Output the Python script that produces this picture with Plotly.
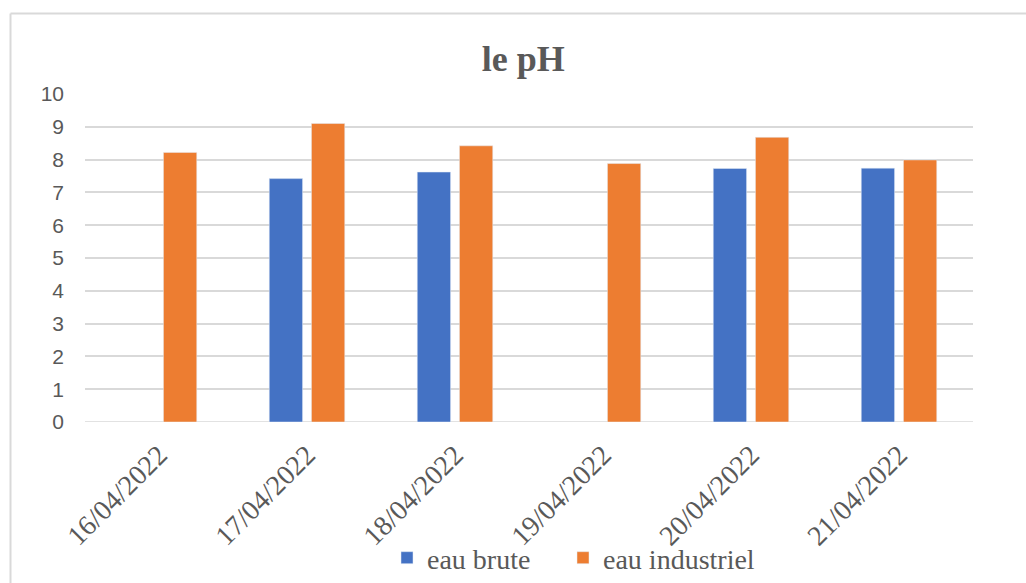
import plotly.graph_objects as go

# pH readings per sampling day
dates = ["16/04/2022", "17/04/2022", "18/04/2022", "19/04/2022", "20/04/2022", "21/04/2022"]
eau_brute = [None, 7.42, 7.62, None, 7.73, 7.74]
eau_industriel = [8.22, 9.10, 8.42, 7.88, 8.68, 7.99]
y_ticks = list(range(0, 11))

TEXT = "#595959"
GRID = "#d9d9d9"
SERIF = "Liberation Serif"
SANS = "Liberation Sans"

# plot area geometry in pixels (used for the frame lines around the chart)
W, H = 1026, 583
L, R, T, B = 85, 53, 94, 161
pw, ph = W - L - R, H - T - B

fig = go.Figure()
fig.add_trace(go.Bar(name="eau brute", x=dates, y=eau_brute, marker_color="#4472C4",
                     legendwidth=131))
fig.add_trace(go.Bar(name="eau industriel", x=dates, y=eau_industriel, marker_color="#ED7D31"))

fig.update_layout(
    width=W, height=H,
    margin=dict(l=L, r=R, t=T, b=B, autoexpand=False),
    paper_bgcolor="white", plot_bgcolor="white",
    barmode="group", bargap=0.43, bargroupgap=0.21,
    font=dict(family=SERIF, color=TEXT),
    title=dict(text="<b>le pH</b>", x=0.51, xanchor="center", y=1 - 58 / H, yanchor="middle",
               yref="container", font=dict(family=SERIF, size=36, color=TEXT)),
    legend=dict(orientation="h", x=(387 - L) / pw, xanchor="left",
                y=(-(558 - (H - B)) / ph), yanchor="middle",
                font=dict(family=SERIF, size=28, color=TEXT), itemwidth=30,
                bgcolor="rgba(0,0,0,0)"),
    xaxis=dict(tickangle=-45, tickfont=dict(family=SERIF, size=28, color=TEXT),
               showline=False, showgrid=False, ticks="", automargin=False, ticklabelstandoff=10),
    yaxis=dict(range=[0, 10], tickvals=y_ticks, showgrid=True, gridcolor=GRID, gridwidth=1.5,
               zeroline=False, showline=False, ticks="", automargin=False,
               tickfont=dict(family=SANS, size=21, color=TEXT), ticklabelstandoff=20),
    shapes=[
        dict(type="line", xref="paper", yref="paper",
             x0=(10.5 - L) / pw, x1=(10.5 - L) / pw, y0=(H - B - 13.5) / ph, y1=-1,
             line=dict(color=GRID, width=2)),
        dict(type="line", xref="paper", yref="paper",
             x0=(10.5 - L) / pw, x1=1.2, y0=(H - B - 13.5) / ph, y1=(H - B - 13.5) / ph,
             line=dict(color=GRID, width=2)),
        dict(type="line", xref="paper", yref="y", x0=0, x1=1, y0=0, y1=0,
             line=dict(color=GRID, width=1.5), layer="below"),
    ],
)

fig.write_html("out.html")
